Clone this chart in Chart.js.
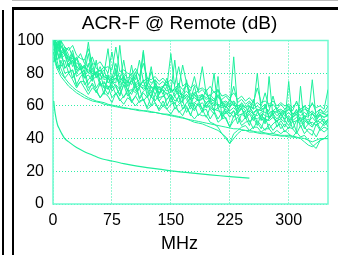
<!DOCTYPE html>
<html><head><meta charset="utf-8">
<script src="https://cdn.jsdelivr.net/npm/chart.js@4/dist/chart.umd.min.js"></script>
<style>
html,body{margin:0;padding:0;background:#fff;overflow:hidden;}
#wrap{position:relative;width:338px;height:255px;}
canvas{position:absolute;left:0;top:0;}
.ln{position:absolute;background:#000;}
</style></head><body>
<div id="wrap">
<canvas id="c" width="338" height="255"></canvas>
<div class="ln" style="left:12px;top:0;width:326px;height:1px;background:#bbb"></div>
<div class="ln" style="left:12px;top:7px;width:326px;height:3px"></div>
<div class="ln" style="left:12px;top:7px;width:2px;height:248px"></div>
<div class="ln" style="left:2px;top:10px;width:2px;height:245px"></div>
</div>
<script>
// Frequencies (MHz) shared by all measured pairs
const freqs = [1,3,5,8,10,15,20,25,30,35,40,45,50,55,60,65,70,75,80,85,90,95,100,105,110,115,120,125,130,135,140,145,150,155,160,165,170,175,180,185,190,195,200,205,210,215,220,225,230,235,240,245,250,255,260,265,270,275,280,285,290,295,300,305,310,315,320,325,330,335,340,345,350];

const traceA = [100,100,98,100,97,93,96,90,88,92, 86,84,90,83,81,84,80,93,79,78, 80,77,79,76,88,75,77,74,76,73, 75,72,92,71,73,70,72,69,78,68, 70,67,66,69,65,64,66,63,72,62, 64,61,63,60,62,60,68,59,61,58, 61,58,60,57,63,56,58,57,62,56, 58,56,60];
const traceB = [98,100,97,95,100,92,90,89,86,85, 83,99,81,80,82,78,79,77,86,76, 77,75,78,74,76,94,72,81,73,71, 72,73,70,69,71,85,74,67,68,66, 67,65,67,64,66,62,63,61,63,60, 61,59,62,58,60,58,59,57,66,57, 58,56,59,55,57,56,60,55,57,54, 56,55,57];
const traceC = [100,100,95,99,93,96,91,84,89,82, 85,80,86,77,80,82,74,77,79,74, 79,72,75,81,72,75,70,73,76,67, 72,75,68,71,66,68,74,64,68,69, 84,67,64,60,67,63,59,64,61,57, 62,59,56,64,56,59,61,53,57,59, 55,58,60,53,56,58,52,57,55,53, 58,55,54];
const traceD = [100,92,96,98,90,93,84,91,82,84, 77,86,76,78,80,71,77,73,83,70, 75,69,77,69,72,76,66,72,67,72, 67,72,64,68,74,63,66,60,67,63, 67,59,63,80,58,62,55,59,63,55, 59,53,60,55,58,51,61,52,55,57, 52,57,50,54,58,50,54,49,56,51, 55,49,52];
const traceE = [94,98,92,95,89,91,84,88,80,83, 77,79,75,88,73,74,72,71,73,70, 78,69,70,68,71,93,68,66,74,65, 66,64,67,63,65,62,76,61,62,60, 62,59,60,58,57,56,58,55,57,54, 55,53,56,53,52,54,52,51,53,51, 52,50,75,50,51,49,51,49,50,48, 50,48,50];
const traceF = [92,96,88,91,93,83,86,77,81,84, 73,76,79,71,75,67,79,69,72,66, 73,66,69,74,64,68,65,69,63,67, 70,60,65,61,66,58,62,65,58,61, 56,62,58,55,78,52,57,53,57,49, 55,57,50,53,48,55,50,52,56,47, 51,47,53,46,51,53,46,49,47,51, 46,49,51];
const traceG = [93,87,93,88,84,88,80,82,73,78, 80,71,73,68,74,71,67,73,67,70, 65,70,63,66,71,63,66,60,67,63, 60,64,67,58,61,63,56,60,57,62, 58,53,59,57,52,56,52,47,54,55, 50,53,48,55,50,46,53,46,49,51, 46,49,46,51,44,72,47,44,42,49, 45,47,46];
const traceH = [87,91,88,82,88,80,81,82,72,75, 75,69,74,70,65,69,72,65,68,63, 66,68,62,66,62,64,59,66,62,58, 63,58,61,62,56,58,60,54,61,54, 57,58,52,56,50,52,53,47,51,53, 48,50,51,46,51,48,45,49,45,48, 49,44,47,46,43,48,43,46,45,41, 46,44,46];
const traceI = [87,89,83,85,83,77,80,76,71,75, 71,67,71,69,65,68,66,62,68,64, 61,65,63,60,63,64,58,60,62,57, 60,58,55,59,57,54,59,55,52,55, 54,54,50,49,47,43,40,37,43,45, 47,48,45,47,47,44,46,46,43,45, 43,45,43,41,44,41,42,39,36,34, 39,40,42];
const traceJ = [97,100,94,100,91,95,87,92,83,86, 80,92,78,81,76,80,95,74,77,73, 75,72,85,71,73,70,72,84,70,68, 70,67,69,88,66,65,67,64,65,63, 64,70,61,62,60,59,60,57,59,56, 58,55,57,55,54,56,54,53,55,52, 55,52,54,51,53,51,52,50,53,50, 52,50,51];
const traceK = [100,96,99,93,97,91,88,94,84,82, 85,80,83,78,79,76,77,75,74,97, 74,75,73,79,72,71,73,69,72,68, 72,69,71,66,70,65,67,64,72,63, 65,62,64,63,61,60,61,59,90,58, 60,57,59,56,58,57,56,55,57,54, 56,54,56,53,55,52,54,53,76,52, 54,53,55];
const traceL = [100,100,100,98,100,96,94,97,91,89, 88,95,86,85,87,83,84,82,96,81, 82,80,79,83,78,86,77,76,78,75, 77,74,76,73,84,72,74,71,73,70, 71,69,72,68,70,66,67,65,68,64, 66,63,65,62,71,62,63,61,63,60, 62,60,61,59,62,58,60,58,61,59, 60,58,70];
const traceM = [99,95,98,96,92,94,89,86,90,84, 83,82,80,79,84,77,78,76,77,75, 88,74,75,73,74,72,76,71,72,70, 71,77,69,70,68,67,69,66,67,65, 66,64,65,63,70,61,62,60,61,59, 60,59,60,58,80,57,59,56,57,56, 57,55,58,55,56,54,56,54,55,53, 55,53,54];
const traceN = [98,91,95,89,94,83,86,88,78,80, 82,73,77,81,72,75,70,75,72,67, 73,70,67,73,65,69,71,65,72,63, 66,68,62,66,62,67,64,58,62,64, 58,62,63,57,59,53,60,56,53,57, 59,52,55,51,56,53,49,78,53,50, 55,51,48,53,55,47,50,52,48,51, 50,52,47];
const traceO = [90,86,83,80,78,75,72,70,68,66.5, 65,64,63,62.5,62,61,60.5,60,59.5,59, 58.5,58.5,58,57.5,57,57,56.5,56,56,55.5, 55,55,54.5,54,53.5,53,52,51,50,49.5, 49,48,47,46,45,43,41,37,40,43, 45,45,44,44,43.5,43,43,42.5,42,42, 41.5,41.5,41,41,40.5,40.5,40,39,38,39, 40,40,40];
const traceP = [92,88,85,82,80,77,74,71.5,69.5,68, 66.5,65,64,63,62.5,62,61,60.5,60,59.5, 59,58.5,58,58,57.5,57,57,56.5,56,55.5, 55,54.5,54,53.5,53,52.5,52,51.5,51,50.5, 50,49.5,49,48.5,48,47.5,47,46.5,46,46, 45.5,45,45,44.5,44,44,43.5,43,43,42.5, 42,42,42,41.5,41,40,38,36,35,37, 39,40,40];

// Limit line
const limitFreqs = [1,2,4,6,8,10,15,20,30,40,50,60,75,90,100,125,150,175,200,225,250];
const limitValues = [63,58,52,48,46,44,40,38,34.5,32,30,28,26.3,24.7,23.8,21.9,20.3,19,17.8,16.8,15.8];

const xTicks = [0,75,150,225,300];
const yTicks = [0,20,40,60,80,100];

const traces = [traceA,traceB,traceC,traceD,traceE,traceF,traceG,traceH,traceI,traceJ,traceK,traceL,traceM,traceN,traceO,traceP];
const LINE = '#1DF09C';
const GRID = '#2EF0A8';
const FONT = "'Liberation Sans', Arial, sans-serif";

const datasets = traces.map(t => ({
  data: freqs.map((f, i) => ({x: f, y: t[i]})),
  borderColor: LINE, borderWidth: 1, pointRadius: 0, tension: 0, fill: false
}));
datasets.push({
  data: limitFreqs.map((f, i) => ({x: f, y: limitValues[i]})),
  borderColor: LINE, borderWidth: 1.2, pointRadius: 0, tension: 0.3, fill: false
});

const frame = {
  id: 'frame',
  beforeDatasetsDraw(chart) {
    const {ctx, chartArea: a} = chart;
    ctx.save();
    ctx.strokeStyle = '#70FAD0';
    ctx.lineWidth = 1.5;
    ctx.strokeRect(a.left, a.top, a.right - a.left, a.bottom - a.top);
    ctx.restore();
  }
};

new Chart(document.getElementById('c'), {
  type: 'line',
  data: {datasets},
  options: {
    responsive: false, animation: false, devicePixelRatio: 1,
    layout: {padding: {left: 31, right: 10, top: 0, bottom: 0}},
    plugins: {
      legend: {display: false}, tooltip: {enabled: false},
      title: {display: true, text: 'ACR-F @ Remote (dB)', color: '#000',
        font: {family: FONT, size: 19, weight: 'normal', lineHeight: 1.2},
        padding: {top: 12.8, bottom: 4.9}},
      subtitle: {display: true, position: 'bottom', text: 'MHz', color: '#000',
        font: {family: FONT, size: 18, weight: 'normal', lineHeight: 1.2},
        padding: {top: 4, bottom: 0}}
    },
    scales: {
      x: {
        type: 'linear', min: 0, max: 350,
        afterBuildTicks: s => { s.ticks = xTicks.map(v => ({value: v})); },
        afterFit: s => { s.height = 25.4; },
        ticks: {color: '#000', font: {family: FONT, size: 16}, padding: 7, maxRotation: 0, autoSkip: false},
        grid: {color: GRID, drawTicks: false, lineWidth: 1},
        border: {display: false, dash: [1, 2]}
      },
      y: {
        min: 0, max: 100,
        afterBuildTicks: s => { s.ticks = yTicks.map(v => ({value: v})); },
        afterFit: s => { s.width = 22; },
        ticks: {color: '#000', font: {family: FONT, size: 16}, mirror: true, crossAlign: 'far', padding: -35.7, autoSkip: false},
        grid: {color: GRID, drawTicks: false, lineWidth: 1},
        border: {display: false, dash: [1, 2]}
      }
    }
  },
  plugins: [frame]
});
</script>
</body></html>
